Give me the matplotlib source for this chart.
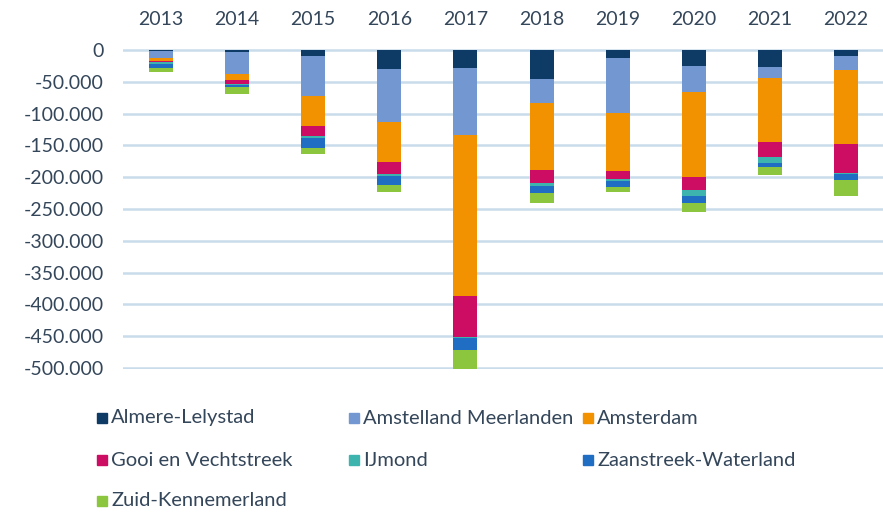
import numpy as np
import matplotlib
matplotlib.use("Agg")
import matplotlib.pyplot as plt
from matplotlib.patches import Rectangle
from matplotlib.ticker import FuncFormatter

plt.rcParams['font.family'] = ['Lato', 'DejaVu Sans']

# change per region, in thousands
years = [2013, 2014, 2015, 2016, 2017, 2018, 2019, 2020, 2021, 2022]
almere = [-2, -4, -9.4, -30.4, -29, -46, -13, -24.6, -27, -9.4]
amstelland = [-10, -33.7, -62.4, -83.3, -104, -37, -85.5, -42, -16.5, -22]
amsterdam = [-5, -9.4, -47.7, -63, -253, -105, -92.5, -132.5, -100.5, -116.4]
gooi = [-2, -7, -16.5, -19, -65, -21, -12, -21, -24.7, -45]
ijmond = [-3, -1, -3, -2, -1, -5, -3, -9, -8.3, -2]
zaanstreek = [-6, -3, -14.5, -14.5, -19, -10.5, -10, -12, -7.4, -9]
zuid = [-7, -11.6, -10, -11.5, -30, -16, -7.7, -13, -12, -25]

regions = ["Almere-Lelystad", "Amstelland Meerlanden", "Amsterdam",
           "Gooi en Vechtstreek", "IJmond", "Zaanstreek-Waterland",
           "Zuid-Kennemerland"]
series = [almere, amstelland, amsterdam, gooi, ijmond, zaanstreek, zuid]
colors = ["#0D3B66", "#7397D0", "#F39200", "#CC0D63", "#3DB5AE",
          "#1F6EC4", "#8CC63F"]

text_col = "#34465A"
W, H = 883, 512

fig = plt.figure(figsize=(W / 100, H / 100), dpi=100)
# axes in pixel terms: x 123..884, y 49..369 from top
ax = fig.add_axes([123 / W, (H - 369) / H, (884 - 123) / W, 320 / H])

x = np.arange(len(years))
bottom = np.zeros(len(years))
for name, vals, c in zip(regions, series, colors):
    v = np.array(vals) * 1000
    ax.bar(x, v, width=0.315, bottom=bottom, color=c, label=name, zorder=3)
    bottom += v

ax.set_xlim(-0.5, len(years) - 0.5)
ax.set_ylim(-501500, 1500)
ax.set_yticks(np.arange(-500000, 1, 50000))
ax.yaxis.set_major_formatter(FuncFormatter(lambda v, p: f"{int(v):,}".replace(",", ".")))
ax.grid(axis='y', color="#C9DCEC", linewidth=1.8)
ax.set_axisbelow(True)
for s in ax.spines.values():
    s.set_visible(False)

ax.xaxis.tick_top()
ax.set_xticks(x)
ax.set_xticklabels([str(y) for y in years])
ax.tick_params(axis='x', length=0, pad=15, labelsize=14, labelcolor=text_col)
ax.tick_params(axis='y', length=0, pad=14, labelsize=14, labelcolor=text_col)

# legend laid out like the original (three columns, row-major)
leg_x = [97, 349, 583]
leg_y = [418, 460, 501]
for i, (name, c) in enumerate(zip(regions, colors)):
    r, col = divmod(i, 3)
    px, py = leg_x[col], leg_y[r]
    fig.add_artist(Rectangle(((px) / W, (H - py - 5) / H), 10 / W, 10 / H,
                             transform=fig.transFigure, color=c))
    fig.text((px + 14) / W, (H - py) / H, name, fontsize=14.5, color=text_col,
             va='center', ha='left')

fig.savefig("out.png", dpi=100, facecolor="white")
